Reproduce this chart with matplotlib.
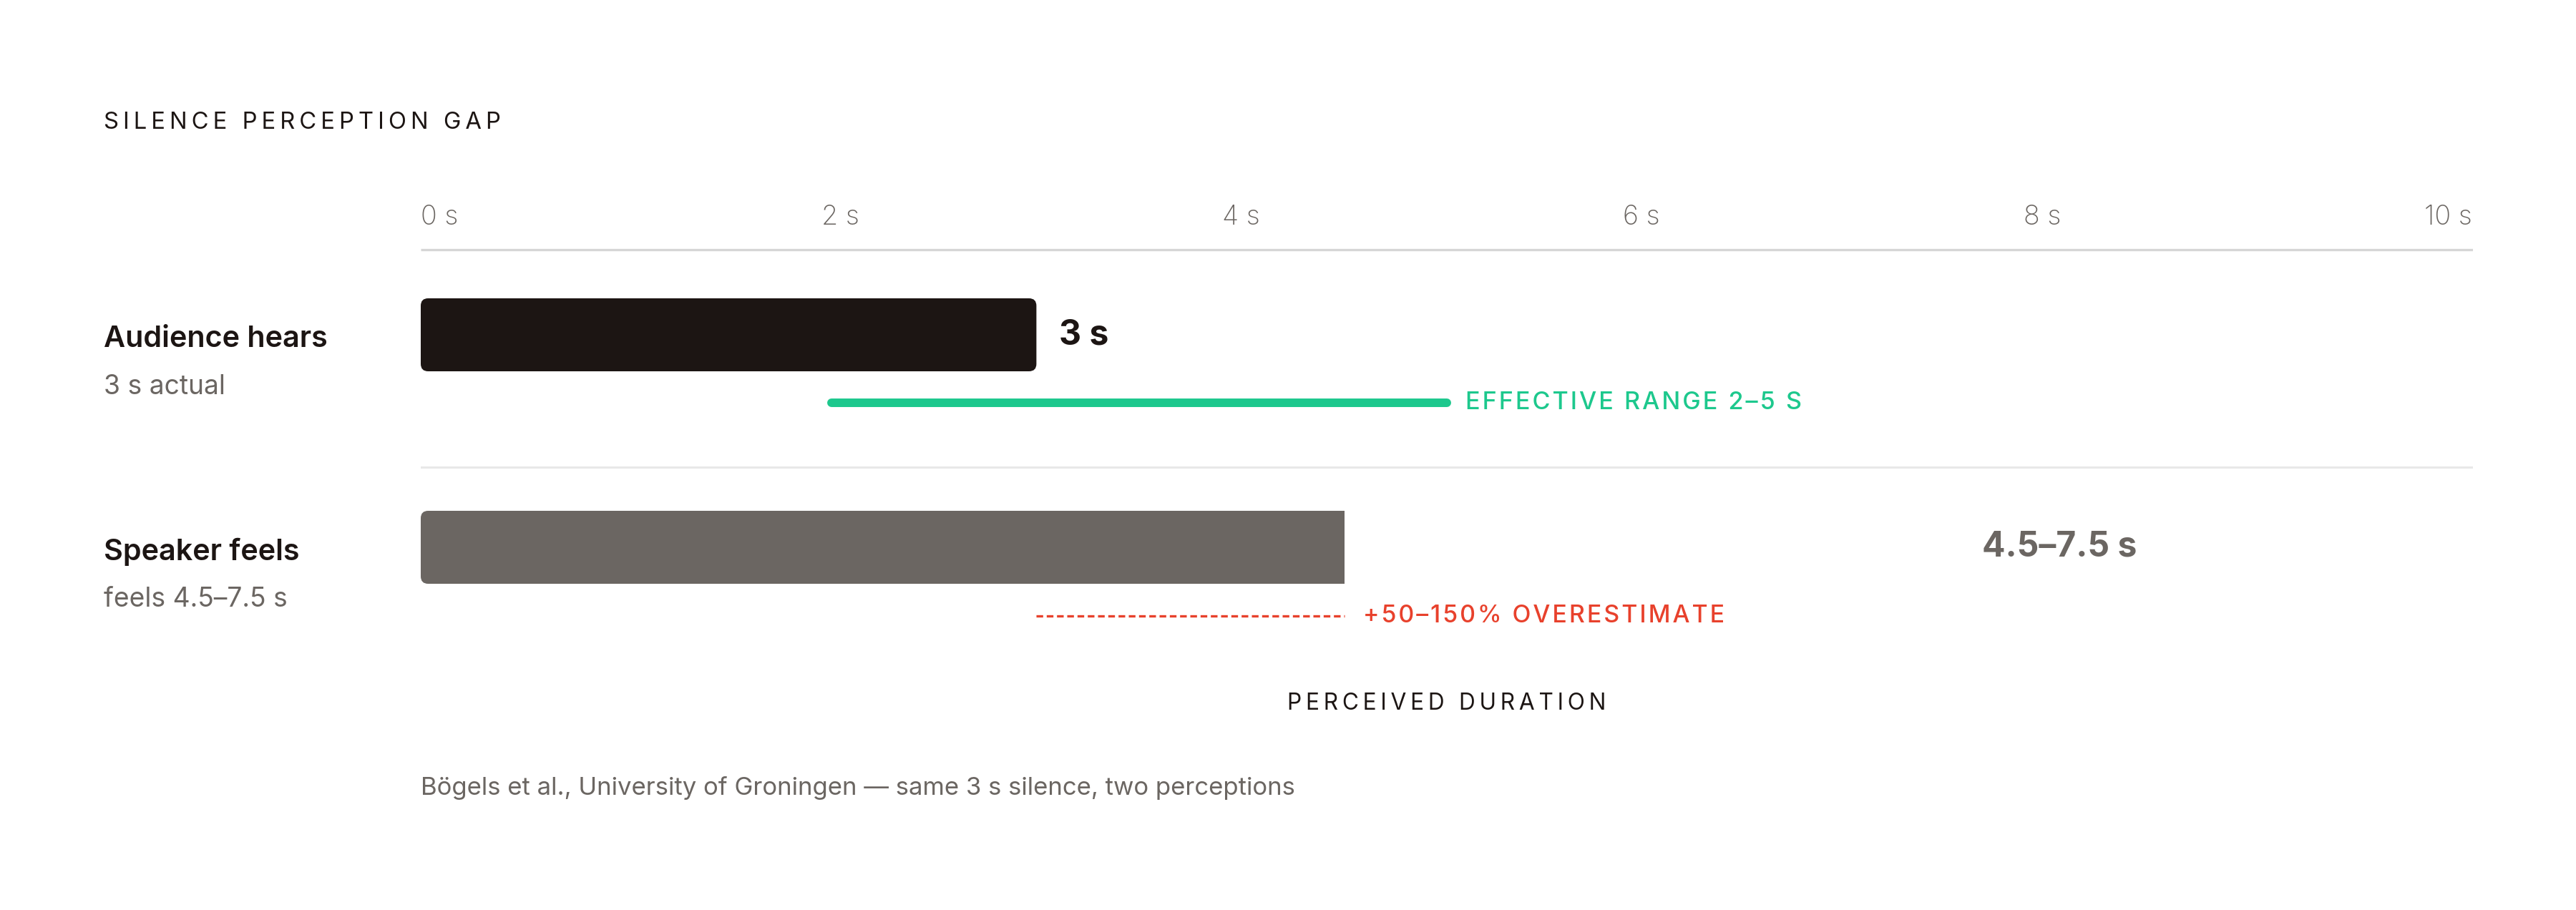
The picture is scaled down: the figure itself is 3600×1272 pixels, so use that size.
import matplotlib
matplotlib.use("Agg")
import matplotlib.pyplot as plt
from matplotlib.patches import FancyBboxPatch, Rectangle
from matplotlib import transforms

plt.rcParams['font.family'] = ['Inter', 'DejaVu Sans']

# data
categories = ["Audience hears", "Speaker feels"]
sublabels = ["3 s actual", "feels 4.5–7.5 s"]
bar_values = [3, 4.5]
value_labels = ["3 s", "4.5–7.5 s"]
value_label_at = [3, 7.5]
effective_range = [2, 5]
overestimate_span = [3, 4.5]
ticks = [0, 2, 4, 6, 8, 10]
tick_labels = ["0 s", "2 s", "4 s", "6 s", "8 s", "10 s"]

DARK = "#1c1513"
GRAY = "#6b6662"
GREEN = "#1dc88d"
RED = "#e8412c"


def spaced(s, sep="\u2009"):
    # fake letter spacing with thin spaces
    return sep.join(s)


W, H = 3600, 1272
fig = plt.figure(figsize=(18, 6.36), dpi=200)
fig.patch.set_facecolor("white")

x0, x1 = 588, 3456
ax = fig.add_axes([x0 / W, 0, (x1 - x0) / W, 1])
ax.set_xlim(0, 10)
ax.set_ylim(H, 0)
ax.axis("off")

# left column: x in figure fraction, y in pixel rows
left = transforms.blended_transform_factory(fig.transFigure, ax.transData)

fig.text(145 / W, 1 - 172 / H, spaced("SILENCE PERCEPTION GAP"), fontsize=11.8,
         color=DARK, va="center", ha="left")

# axis ticks (spread like space-between)
for i, (t, lab) in enumerate(zip(ticks, tick_labels)):
    frac = i / (len(ticks) - 1)
    ax.annotate(lab, (t, 304), xytext=(-frac * 68, 0), textcoords="offset pixels",
                ha="left", va="center", fontsize=13.6, color=GRAY, fontweight="light")
ax.plot([0, 10], [349, 349], color="#d6d6d6", lw=1.2, solid_capstyle="butt")

row_y = [468, 765]
bar_h = 102
px_per_s = (x1 - x0) / 10.0  # y units (pixels) per x unit
rad = 0.036

# row 1 bar
y = row_y[0]
ax.add_patch(FancyBboxPatch((0, y - bar_h / 2), bar_values[0], bar_h,
                            boxstyle=f"round,pad=0,rounding_size={rad}",
                            mutation_aspect=px_per_s, fc=DARK, ec="none"))
ax.annotate(value_labels[0], (value_label_at[0], y), xytext=(32, 0),
            textcoords="offset pixels", ha="left", va="center",
            fontsize=17.3, fontweight="bold", color=DARK)

# effective range line
ax.plot(effective_range, [563, 563], color=GREEN, lw=4.3, solid_capstyle="round")
ax.annotate(spaced("EFFECTIVE RANGE 2–5 S", "\u200a"), (effective_range[1], 563),
            xytext=(26, 0), textcoords="offset pixels", ha="left", va="center",
            fontsize=12.3, color=GREEN, fontweight="medium")

ax.plot([0, 10], [653, 653], color="#e8e8e8", lw=1.1)

# row 2 bar: rounded left, square right
y = row_y[1]
ax.add_patch(FancyBboxPatch((0, y - bar_h / 2), bar_values[1], bar_h,
                            boxstyle=f"round,pad=0,rounding_size={rad}",
                            mutation_aspect=px_per_s, fc=GRAY, ec="none"))
ax.add_patch(Rectangle((bar_values[1] / 2, y - bar_h / 2), bar_values[1] / 2, bar_h,
                       fc=GRAY, ec="none"))
ax.annotate(value_labels[1], (value_label_at[1], y), xytext=(31, 0),
            textcoords="offset pixels", ha="left", va="center",
            fontsize=17.3, fontweight="bold", color=GRAY)

# overestimate
ax.plot(overestimate_span, [861, 861], color=RED, lw=1.2, linestyle=(0, (2.8, 1.5)))
ax.annotate(spaced("+50–150% OVERESTIMATE", "\u200a"), (overestimate_span[1], 861),
            xytext=(26, 0), textcoords="offset pixels", ha="left", va="center",
            fontsize=12.2, color=RED, fontweight="medium")

# row labels
for cat, sub, yy in zip(categories, sublabels, row_y):
    ax.text(145 / W, yy + 6, cat, transform=left, ha="left", va="center",
            fontsize=14.9, fontweight="semibold", color=DARK)
    ax.text(145 / W, yy + 73, sub, transform=left, ha="left", va="center",
            fontsize=13.4, color=GRAY)

ax.text(5, 984, spaced("PERCEIVED DURATION"), ha="center", va="center",
        fontsize=11.4, color=DARK)
ax.text(0, 1101, "Bögels et al., University of Groningen — same 3 s silence, two perceptions",
        ha="left", va="center", fontsize=12.5, color=GRAY)

fig.savefig("out.png", dpi=200, facecolor="white")
